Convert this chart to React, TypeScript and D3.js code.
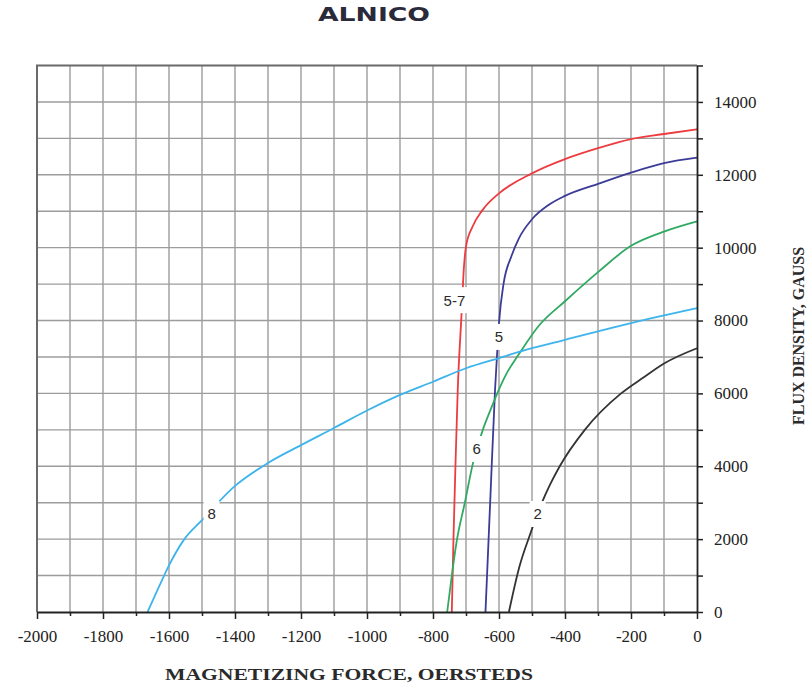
import * as d3 from "d3";
import { useEffect, useRef } from "react";

// demagnetization curves, H in oersteds, B in gauss
const alnico57 = [
  [0, 13250], [-100, 13120], [-200, 12980], [-300, 12730], [-400, 12430],
  [-500, 12040], [-600, 11490], [-650, 11030], [-680, 10580], [-700, 10030],
  [-706, 9500], [-714, 8100], [-725, 6100], [-732, 4000], [-738, 2000], [-743, 0],
];
const alnico5 = [
  [0, 12470], [-100, 12320], [-200, 12060], [-300, 11750], [-400, 11420],
  [-450, 11170], [-500, 10780], [-540, 10250], [-563, 9750], [-586, 9020],
  [-600, 7930], [-605, 7200], [-612, 6100], [-626, 3170], [-641, 0],
];
const alnico6 = [
  [0, 10720], [-100, 10440], [-200, 10050], [-300, 9330], [-400, 8530],
  [-480, 7850], [-538, 7100], [-578, 6530], [-603, 6050], [-630, 5450],
  [-649, 5000], [-679, 4080], [-704, 2980], [-728, 1950], [-743, 1000], [-757, 0],
];
const alnico2 = [
  [0, 7240], [-100, 6820], [-160, 6450], [-230, 6000], [-340, 5000],
  [-416, 4000], [-445, 3500], [-470, 3000], [-507, 2100], [-538, 1250], [-570, 0],
];
const alnico8 = [
  [0, 8340], [-200, 7930], [-400, 7470], [-500, 7240], [-600, 6970],
  [-700, 6690], [-800, 6320], [-900, 5960], [-1000, 5530], [-1100, 5050],
  [-1200, 4580], [-1300, 4090], [-1400, 3460], [-1500, 2520], [-1555, 1980],
  [-1600, 1280], [-1630, 700], [-1665, 0],
];

const curves = [
  { name: "5-7", values: alnico57, color: "#ee3b3f", label: [-735, 8560] },
  { name: "5", values: alnico5, color: "#3b3b98", label: [-600, 7550] },
  { name: "6", values: alnico6, color: "#2faa62", label: [-668, 4475] },
  { name: "2", values: alnico2, color: "#333333", label: [-483, 2690] },
  { name: "8", values: alnico8, color: "#3db4ec", label: [-1471, 2690] },
];

const xTicks = d3.range(-2000, 1, 100);
const yTicks = d3.range(0, 15001, 1000);

const W = 810;
const H = 693;
const serif = "'Liberation Serif', 'Times New Roman', serif";

const Chart = () => {
  const ref = useRef(null);

  useEffect(() => {
    document.body.style.margin = "0";
    const svg = d3.select(ref.current);
    svg.selectAll("*").remove();

    const x = d3.scaleLinear().domain([-2000, 0]).range([37, 697]);
    const y = d3.scaleLinear().domain([0, 15000]).range([612, 65.5]);

    svg.append("rect").attr("width", W).attr("height", H).attr("fill", "#fff");

    // grid
    const grid = svg.append("g").attr("stroke", "#9c9c9c").attr("stroke-width", 1.4);
    grid.selectAll(".gx")
      .data(xTicks.slice(1, -1))
      .enter()
      .append("line")
      .attr("x1", d => x(d))
      .attr("x2", d => x(d))
      .attr("y1", y(15000))
      .attr("y2", y(0));
    grid.selectAll(".gy")
      .data(yTicks.slice(1, -1))
      .enter()
      .append("line")
      .attr("x1", x(-2000))
      .attr("x2", x(0))
      .attr("y1", d => y(d))
      .attr("y2", d => y(d));

    // frame top + left
    svg.append("path")
      .attr("d", `M${x(-2000)},${y(0)}V${y(15000)}H${x(0)}`)
      .attr("fill", "none")
      .attr("stroke", "#6a6a6a")
      .attr("stroke-width", 2);

    // curves
    const line = d3.line()
      .x(d => x(d[0]))
      .y(d => y(d[1]))
      .curve(d3.curveMonotoneX);

    curves.forEach(c => {
      svg.append("path")
        .attr("d", line(c.values))
        .attr("fill", "none")
        .attr("stroke", c.color)
        .attr("stroke-width", 1.8);
    });

    // curve labels on white patches
    curves.forEach(c => {
      const cx = x(c.label[0]);
      const cy = y(c.label[1]);
      const w = c.name.length > 1 ? 27 : 16;
      svg.append("rect")
        .attr("x", cx - w / 2)
        .attr("y", cy - 13)
        .attr("width", w)
        .attr("height", 26)
        .attr("fill", "#fff");
      svg.append("text")
        .attr("x", cx)
        .attr("y", cy)
        .attr("dy", "0.36em")
        .attr("text-anchor", "middle")
        .attr("font-family", "'Liberation Sans', sans-serif")
        .attr("font-size", 15)
        .attr("fill", "#2a2a2a")
        .text(c.name);
    });

    // bottom axis
    const xAxis = d3.axisBottom(x)
      .tickValues(xTicks)
      .tickSize(5)
      .tickSizeOuter(0)
      .tickPadding(13)
      .tickFormat(d => (d % 200 === 0 ? String(d) : ""));
    const gx = svg.append("g")
      .attr("transform", `translate(0, ${y(0)})`)
      .call(xAxis)
      .attr("font-family", serif)
      .attr("font-size", 17);
    gx.selectAll(".tick line")
      .attr("y2", d => (d % 200 === 0 ? 7 : 4))
      .attr("stroke", "#222")
      .attr("stroke-width", 1.5);
    gx.select(".domain").attr("stroke", "#222").attr("stroke-width", 1.8);
    gx.selectAll(".tick text").attr("fill", "#222");

    // right axis
    const yAxis = d3.axisRight(y)
      .tickValues(yTicks)
      .tickSize(6)
      .tickSizeOuter(0)
      .tickPadding(11)
      .tickFormat(d => (d % 2000 === 0 ? String(d) : ""));
    const gy = svg.append("g")
      .attr("transform", `translate(${x(0)}, 0)`)
      .call(yAxis)
      .attr("font-family", serif)
      .attr("font-size", 17);
    gy.selectAll(".tick line").attr("stroke", "#222").attr("stroke-width", 1.5);
    gy.select(".domain").attr("stroke", "#222").attr("stroke-width", 1.8);
    gy.selectAll(".tick text").attr("fill", "#222");

    // titles
    svg.append("text")
      .attr("x", 374)
      .attr("y", 21)
      .attr("text-anchor", "middle")
      .attr("textLength", 112)
      .attr("lengthAdjust", "spacingAndGlyphs")
      .attr("font-family", "'DejaVu Sans', sans-serif")
      .attr("font-weight", "bold")
      .attr("font-size", 19)
      .attr("fill", "#2a2a3a")
      .text("ALNICO");

    svg.append("text")
      .attr("x", 349)
      .attr("y", 680)
      .attr("text-anchor", "middle")
      .attr("textLength", 368)
      .attr("lengthAdjust", "spacingAndGlyphs")
      .attr("font-family", serif)
      .attr("font-weight", "bold")
      .attr("font-size", 17)
      .attr("fill", "#2a2a2a")
      .text("MAGNETIZING FORCE, OERSTEDS");

    svg.append("text")
      .attr("transform", "translate(804, 336) rotate(-90)")
      .attr("text-anchor", "middle")
      .attr("textLength", 178)
      .attr("lengthAdjust", "spacingAndGlyphs")
      .attr("font-family", serif)
      .attr("font-weight", "bold")
      .attr("font-size", 17)
      .attr("fill", "#2a2a2a")
      .text("FLUX DENSITY, GAUSS");
  }, []);

  return <svg ref={ref} width={W} height={H} style={{ display: "block" }}></svg>;
};

export default function App() {
  return <Chart />;
}
